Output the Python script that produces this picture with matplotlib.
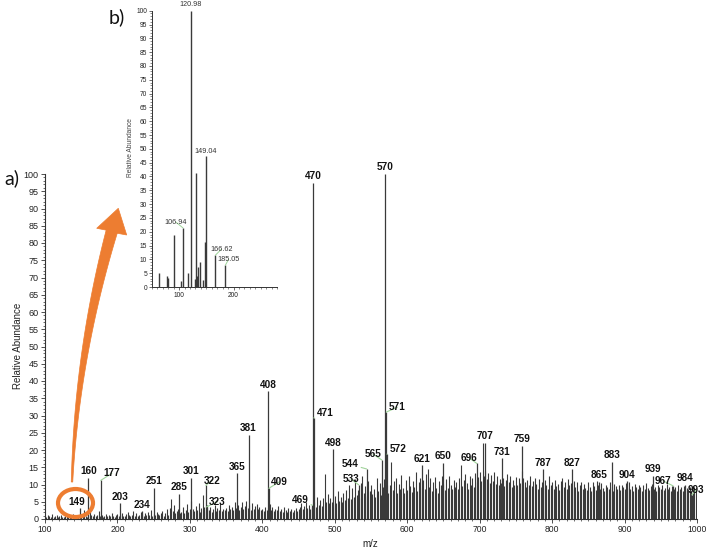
import matplotlib
matplotlib.use('Agg')
import matplotlib.pyplot as plt
import numpy as np
from matplotlib.patches import Ellipse, Polygon
from matplotlib.ticker import MultipleLocator

plt.rcParams['font.family'] = ['Liberation Sans', 'DejaVu Sans']

W, H = 709, 549

# ---------------- data ----------------
# background spectrum (m/z every 2 from 100 to 998), relative abundance %
bg_mz = list(range(100, 1000, 2))
bg_int = [
    1.0, 0.6, 1.2, 0.8, 0.5, 1.4, 0.7, 0.9, 1.1, 0.6, 0.8, 1.3, 0.7, 0.5, 1.0, 0.9, 1.2, 0.6, 0.8, 1.5, 0.7, 0.9, 0.6, 1.1, 0.8,
    1.2, 0.9, 2.5, 1.0, 0.7, 1.6, 3.0, 1.2, 0.8, 1.4, 0.9, 1.1, 2.2, 0.8, 1.3, 0.7, 1.0, 1.5, 0.9, 1.2, 0.8, 1.6, 1.0, 0.7, 1.3,
    1.4, 0.9, 1.2, 1.8, 1.0, 0.8, 1.5, 2.0, 1.1, 0.9, 1.3, 2.4, 1.0, 1.7, 0.8, 1.2, 2.1, 1.4, 0.9, 1.6, 1.1, 1.9, 1.3, 2.6, 1.0,
    1.5, 1.2, 2.0, 1.4, 1.1, 1.8, 2.3, 1.0, 1.6, 2.8, 1.3, 3.2, 5.8, 2.2, 4.2, 1.8, 2.4, 3.0, 1.7, 2.1, 3.5, 1.6, 2.6, 4.4, 2.0,
    2.8, 5.2, 3.0, 2.2, 3.8, 2.5, 4.5, 2.0, 3.3, 7.0, 3.5, 2.4, 4.0, 2.6, 3.4, 2.1, 3.0, 4.2, 2.3, 3.1, 2.7, 4.6, 2.2, 3.0, 2.5,
    3.2, 2.4, 4.0, 2.8, 3.5, 2.6, 5.0, 3.1, 4.2, 2.7, 3.6, 4.8, 2.9, 3.8, 5.2, 3.3, 4.0, 2.6, 4.6, 3.0, 3.9, 4.4, 2.8, 3.4, 2.5,
    3.0, 2.4, 3.6, 2.7, 3.1, 4.4, 2.6, 3.5, 2.2, 3.0, 2.5, 3.8, 2.3, 2.9, 2.1, 3.4, 2.6, 2.0, 3.1, 2.4, 2.8, 2.0, 2.6, 3.3, 2.2,
    2.9, 3.6, 4.5, 3.0, 3.8, 5.0, 3.2, 4.0, 2.8, 3.5, 2.6, 4.8, 3.6, 6.5, 4.2, 5.5, 3.8, 6.0, 13.0, 5.0, 7.2, 4.6, 6.2, 5.0, 4.4,
    6.8, 4.5, 8.0, 5.2, 6.5, 4.8, 7.5, 5.5, 8.4, 6.0, 10.0, 5.8, 9.0, 6.4, 11.5, 7.0, 8.5, 6.2, 10.5, 12.5, 7.5, 9.5, 6.8, 11.0, 8.0,
    10.0, 7.2, 8.6, 6.5, 12.0, 8.0, 10.5, 7.0, 9.2, 11.5, 8.0, 10.0, 7.5, 9.8, 16.5, 8.4, 11.0, 12.0, 7.6, 10.2, 8.8, 12.8, 9.0, 7.4, 11.2,
    8.5, 12.4, 9.6, 7.8, 11.0, 9.2, 13.5, 8.0, 10.8, 12.0, 9.0, 11.4, 8.6, 13.0, 14.5, 9.4, 11.8, 8.2, 10.6, 12.2, 9.0, 7.6, 11.0, 9.8, 12.6,
    10.2, 8.4, 11.6, 9.0, 12.4, 10.0, 8.6, 11.2, 9.4, 10.8, 8.8, 12.0, 15.6, 9.6, 11.4, 13.0, 10.4, 8.8, 12.6, 10.0, 11.8, 9.2, 13.4, 10.6, 12.2,
    13.5, 11.0, 21.9, 12.5, 14.0, 11.6, 13.2, 10.4, 12.8, 11.0, 13.6, 10.2, 12.4, 9.8, 11.6, 10.4, 12.0, 9.6, 11.4, 13.0, 10.8, 12.6, 9.4, 11.2, 10.0,
    12.2, 9.8, 11.8, 10.4, 13.8, 12.0, 10.6, 9.2, 11.4, 10.0, 12.4, 9.6, 11.0, 12.0, 10.2, 8.8, 11.6, 9.4, 10.8, 9.0, 11.2, 10.0, 8.6, 12.4, 9.8,
    10.6, 8.8, 11.4, 9.6, 10.2, 8.4, 11.0, 12.0, 9.2, 10.8, 8.6, 11.6, 9.8, 10.4, 8.8, 11.0, 9.4, 10.6, 8.2, 9.8, 10.8, 8.6, 10.2, 9.0, 8.4,
    10.6, 9.2, 8.0, 10.8, 9.6, 8.4, 11.0, 9.8, 8.6, 10.4, 9.0, 8.2, 10.0, 9.4, 8.8, 10.6, 9.2, 8.0, 10.2, 9.6, 8.6, 9.8, 8.4, 10.0, 9.2,
    8.6, 10.4, 9.0, 10.8, 8.8, 9.6, 8.2, 10.2, 9.4, 8.6, 10.0, 9.2, 8.0, 9.8, 8.8, 10.4, 9.0, 8.4, 9.6, 10.2, 8.8, 9.4, 8.2, 10.0, 9.2,
    8.6, 9.8, 8.4, 9.0, 10.2, 8.8, 9.4, 8.0, 9.6, 8.6, 9.2, 8.2, 9.8, 8.8, 9.4, 8.0, 9.6, 8.4, 9.0, 8.6, 9.2, 8.2, 8.8, 9.4, 8.4,
]

# labelled peaks in main spectrum
peak_mz = [149, 160, 177, 203, 234, 251, 285, 301, 322, 323, 365, 381, 408, 409,
           469, 470, 471, 498, 533, 544, 565, 570, 571, 572, 621, 650, 696, 707,
           731, 759, 787, 827, 865, 883, 904, 939, 967, 984, 993]
peak_int = [3.2, 12.0, 11.2, 4.5, 2.2, 9.1, 7.3, 12.0, 9.8, 3.5, 13.2, 24.4, 37.0, 8.9,
            4.0, 97.5, 29.3, 20.2, 9.9, 14.5, 17.1, 100.0, 31.0, 18.8, 15.6, 16.3, 16.1, 22.1,
            17.6, 21.2, 14.4, 14.4, 10.8, 16.6, 11.0, 12.5, 9.6, 10.0, 7.0]

# inset spectrum (b)
ins_mz = [63, 77, 79, 91, 103, 106.94, 117, 120.98, 129, 131, 133, 135, 139, 143, 147, 149.04, 166.62, 185.05]
ins_int = [5.1, 3.9, 3.3, 19.0, 2.1, 21.4, 5.2, 100.0, 3.0, 41.4, 3.9, 7.2, 9.1, 2.7, 16.3, 47.4, 11.5, 7.9]
ins_labels = ['106.94', '120.98', '149.04', '166.62', '185.05']

# ---------------- figure ----------------
fig = plt.figure(figsize=(W / 100, H / 100), dpi=100)


def fx(px):
    return px / W


def fy(py):
    return 1 - py / H


BAR = '#3a3a3a'
GREEN = '#9fd49a'
ORANGE = '#ED7D31'
TXT = '#222222'

# main axes
ax = fig.add_axes([fx(45), fy(519), fx(697) - fx(45), fy(174) - fy(519)])
ax.vlines(bg_mz, 0, bg_int, color=BAR, lw=0.8)
ax.vlines(peak_mz, 0, peak_int, color=BAR, lw=0.9)
ax.set_xlim(100, 1000)
ax.set_ylim(0, 100)
for s in ['top', 'right']:
    ax.spines[s].set_visible(False)
for s in ['left', 'bottom']:
    ax.spines[s].set_linewidth(0.8)
    ax.spines[s].set_color('#333333')
ax.xaxis.set_major_locator(MultipleLocator(100))
ax.xaxis.set_minor_locator(MultipleLocator(10))
ax.yaxis.set_major_locator(MultipleLocator(5))
ax.yaxis.set_minor_locator(MultipleLocator(1))
ax.tick_params(axis='both', which='major', length=3, width=0.6, color='#333333', pad=1.5)
ax.tick_params(axis='both', which='minor', length=1.6, width=0.5, color='#333333')
ax.tick_params(axis='x', labelsize=6.2, labelcolor=TXT)
ax.tick_params(axis='y', labelsize=6.5, labelcolor=TXT)

# label offsets (pixels): (dx, dy up) relative to peak top, drawn with leader line
lead = {177: (11, 7), 322: (6, 4.5), 323: (11, 5.3), 409: (10.7, 6.6),
        469: (-12.5, 5), 471: (11.4, 4.7), 533: (-7.6, 5.7), 544: (-16.7, 4.7),
        565: (-9, 6), 571: (11, 4.7), 572: (11.3, 5), 696: (-7.3, 5.3),
        967: (-10, 5), 993: (4.3, 5)}
for mz, h in zip(peak_mz, peak_int):
    if mz == 149:
        ax.annotate(str(mz), (mz, h), xytext=(-4, 6), textcoords='offset pixels',
                    ha='center', va='center', fontsize=7.2, fontweight='bold',
                    color='#111111', annotation_clip=False)
    elif mz in lead:
        dx, dy = lead[mz]
        ax.annotate(str(mz), (mz, h), xytext=(dx, dy), textcoords='offset pixels',
                    ha='center', va='center', fontsize=7.2, fontweight='bold',
                    color='#111111', annotation_clip=False,
                    arrowprops=dict(arrowstyle='-', color=GREEN, lw=0.8,
                                    shrinkA=0, shrinkB=0))
    else:
        ax.annotate(str(mz), (mz, h), xytext=(0, 1.5), textcoords='offset pixels',
                    ha='center', va='bottom', fontsize=7.2, fontweight='bold',
                    color='#111111', annotation_clip=False)

fig.text(fx(18), fy(346), 'Relative Abundance', rotation=90, ha='center', va='center',
         fontsize=7, color=TXT)
fig.text(fx(370), fy(544), 'm/z', ha='center', va='center', fontsize=7, color=TXT)
fig.text(fx(12), fy(178), 'a)', ha='center', va='center', fontsize=14, color='#111111',
         family=['Lato', 'DejaVu Sans'])
fig.text(fx(117), fy(17), 'b)', ha='center', va='center', fontsize=14, color='#111111',
         family=['Lato', 'DejaVu Sans'])

# inset axes
axi = fig.add_axes([fx(152), fy(287), fx(277) - fx(152), fy(10.7) - fy(287)])
axi.set_facecolor('none')
axi.vlines(ins_mz, 0, ins_int, color=BAR, lw=1.0)
axi.set_xlim(50, 280)
axi.set_ylim(0, 100)
for s in ['top', 'right']:
    axi.spines[s].set_visible(False)
for s in ['left', 'bottom']:
    axi.spines[s].set_linewidth(0.7)
    axi.spines[s].set_color('#333333')
axi.xaxis.set_major_locator(MultipleLocator(100))
axi.xaxis.set_minor_locator(MultipleLocator(10))
axi.yaxis.set_major_locator(MultipleLocator(5))
axi.yaxis.set_minor_locator(MultipleLocator(1))
axi.tick_params(axis='both', which='major', length=2.5, width=0.5, color='#333333',
                labelsize=4.8, labelcolor=TXT, pad=1)
axi.tick_params(axis='both', which='minor', length=1.3, width=0.4, color='#333333')
ins_off = {'120.98': (0, 5.7, False), '149.04': (0, 5, False), '106.94': (-7, 5.7, True),
           '166.62': (6, 6, True), '185.05': (3.3, 6, True)}
for mz, h in zip(ins_mz, ins_int):
    key = '%.2f' % mz
    if key in ins_labels:
        dx, dy, ld = ins_off[key]
        kw = {}
        if ld:
            kw['arrowprops'] = dict(arrowstyle='-', color=GREEN, lw=0.7, shrinkA=0, shrinkB=0)
        axi.annotate(key, (mz, h), xytext=(dx, dy), textcoords='offset pixels',
                     ha='center', va='center', fontsize=5.2, color='#333333',
                     annotation_clip=False, **kw)
fig.text(fx(130), fy(148), 'Relative Abundance', rotation=90, ha='center', va='center',
         fontsize=4.8, color='#444444')

# orange highlight ellipse and curved arrow
ell = Ellipse((fx(75.5), fy(503)), width=35 / W, height=28 / H, transform=fig.transFigure,
              fill=False, ec=ORANGE, lw=3, zorder=6)
fig.add_artist(ell)

P0 = np.array([72.0, 482.0])
P1 = np.array([77.0, 355.0])
P2 = np.array([111.7, 231.7])
t = np.linspace(0, 1, 60)
pts = ((1 - t) ** 2)[:, None] * P0 + (2 * (1 - t) * t)[:, None] * P1 + (t ** 2)[:, None] * P2
der = (2 * (1 - t))[:, None] * (P1 - P0) + (2 * t)[:, None] * (P2 - P1)
der = der / np.linalg.norm(der, axis=1)[:, None]
nrm = np.column_stack([-der[:, 1], der[:, 0]])
wid = 1.5 + 10.0 * t ** 1.1
plus = pts + nrm * (wid / 2)[:, None]
minus = pts - nrm * (wid / 2)[:, None]
head = np.array([[126.7, 235.0], [118.3, 208.3], [96.7, 228.3]])
poly_px = np.vstack([plus, head, minus[::-1]])
poly = np.column_stack([poly_px[:, 0] / W, 1 - poly_px[:, 1] / H])
fig.add_artist(Polygon(poly, closed=True, transform=fig.transFigure, fc=ORANGE, ec=ORANGE,
                       lw=0.5, zorder=6))

fig.savefig('out.png', dpi=100)
